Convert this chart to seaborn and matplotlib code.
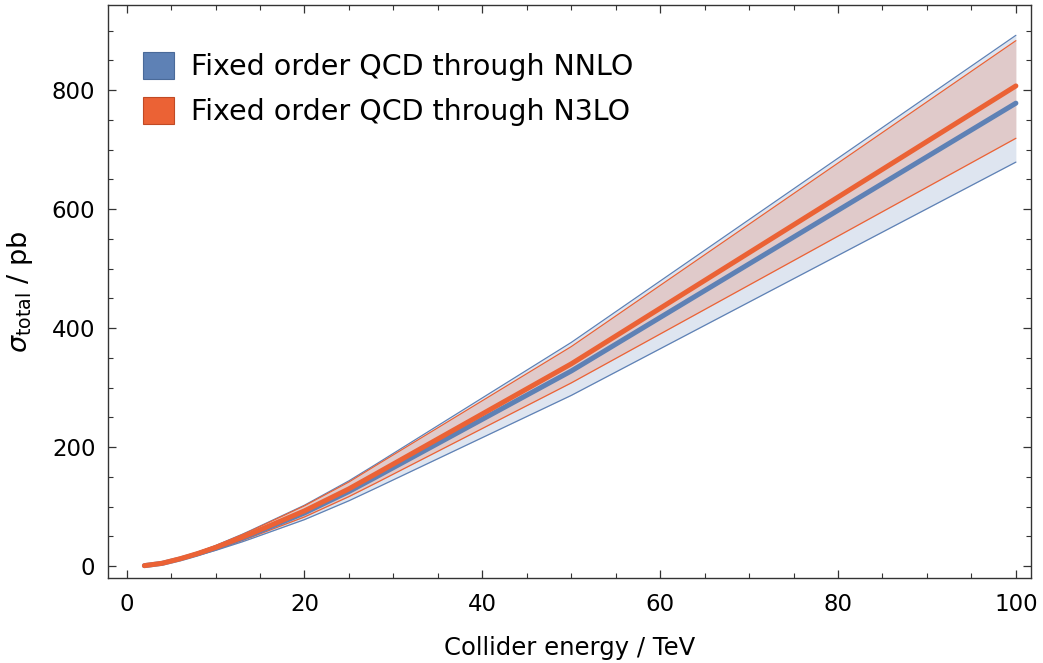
import numpy as np
import pandas as pd
import matplotlib
matplotlib.use("Agg")
import matplotlib.pyplot as plt
from matplotlib.patches import Patch
from matplotlib.ticker import MultipleLocator
import seaborn as sns

# Data
energy = [2, 4, 6, 7, 8, 10, 13, 14, 20, 25, 28, 50, 100]
nnlo_central = [0.97, 4.83, 12.1, 16.3, 20.7, 30.4, 46.9, 52.8, 89.5, 125.5, 149.5, 328.0, 778.0]
nnlo_upper = [1.11, 5.53, 13.9, 18.7, 23.7, 34.8, 53.7, 60.5, 102.5, 143.5, 171.0, 376.0, 892.0]
nnlo_lower = [0.85, 4.23, 10.6, 14.3, 18.1, 26.6, 41.0, 46.2, 78.3, 110.0, 131.0, 287.0, 679.0]
n3lo_central = [1.0, 5.0, 12.5, 16.9, 21.4, 31.5, 48.6, 54.7, 93.0, 130.0, 155.0, 340.0, 807.0]
n3lo_upper = [1.09, 5.46, 13.65, 18.45, 23.4, 34.4, 53.1, 59.7, 101.5, 141.5, 169.0, 369.0, 883.0]
n3lo_lower = [0.89, 4.45, 11.1, 15.0, 19.0, 28.0, 43.3, 48.7, 82.8, 117.0, 139.5, 308.0, 719.0]

labels = ["Fixed order QCD through NNLO", "Fixed order QCD through N3LO"]

sns.set_theme(style="ticks")
plt.rcParams["font.family"] = ["DejaVu Sans"]
plt.rcParams["text.color"] = "black"
plt.rcParams["axes.labelcolor"] = "black"
plt.rcParams["xtick.labelcolor"] = "black"
plt.rcParams["ytick.labelcolor"] = "black"

blue = "#5E81B5"
orange = "#EB6235"

df = pd.DataFrame({
    "energy": energy * 2,
    "sigma": nnlo_central + n3lo_central,
    "order": [labels[0]] * len(energy) + [labels[1]] * len(energy),
})

fig = plt.figure(figsize=(10.43, 6.63), dpi=100)
ax = fig.add_axes([0.1035, 0.128, 0.885, 0.8645])

ax.fill_between(energy, nnlo_lower, nnlo_upper, color=blue, alpha=0.2, linewidth=0)
ax.fill_between(energy, n3lo_lower, n3lo_upper, color=orange, alpha=0.2, linewidth=0)
ax.plot(energy, nnlo_upper, color=blue, lw=0.9)
ax.plot(energy, nnlo_lower, color=blue, lw=0.9)
ax.plot(energy, n3lo_upper, color=orange, lw=0.9)
ax.plot(energy, n3lo_lower, color=orange, lw=0.9)

sns.lineplot(data=df, x="energy", y="sigma", hue="order",
             palette={labels[0]: blue, labels[1]: orange},
             linewidth=3.6, ax=ax, legend=False)

ax.set_xlim(-2.1, 101.7)
ax.set_ylim(-20, 943)

ax.xaxis.set_major_locator(MultipleLocator(20))
ax.xaxis.set_minor_locator(MultipleLocator(5))
ax.yaxis.set_major_locator(MultipleLocator(200))
ax.yaxis.set_minor_locator(MultipleLocator(50))
ax.tick_params(which="both", direction="in", top=True, right=True,
               labeltop=False, labelright=False, color="#333333")
ax.tick_params(which="major", length=6, width=0.9, labelsize=16.5)
ax.tick_params(axis="x", which="major", pad=11)
ax.tick_params(axis="y", which="major", pad=9)
ax.tick_params(which="minor", length=3.5, width=0.8)
for s in ax.spines.values():
    s.set_color("#333333")
    s.set_linewidth(1.0)

ax.set_xlabel("Collider energy / TeV", fontsize=17.5, labelpad=14)
ax.set_ylabel(r"$\sigma_{\mathregular{total}}$ / pb", fontsize=19.5, labelpad=12)

handles = [Patch(facecolor=blue, edgecolor="#4a6a99", linewidth=0.8),
           Patch(facecolor=orange, edgecolor="#c04a25", linewidth=0.8)]
ax.legend(handles, labels, loc="upper left", bbox_to_anchor=(0.038, 0.918),
          frameon=False, fontsize=20.5, handlelength=1.1, handleheight=1.1,
          handletextpad=0.6, labelspacing=0.55, borderaxespad=0.0, borderpad=0.0)

fig.savefig("out.png", dpi=100)
